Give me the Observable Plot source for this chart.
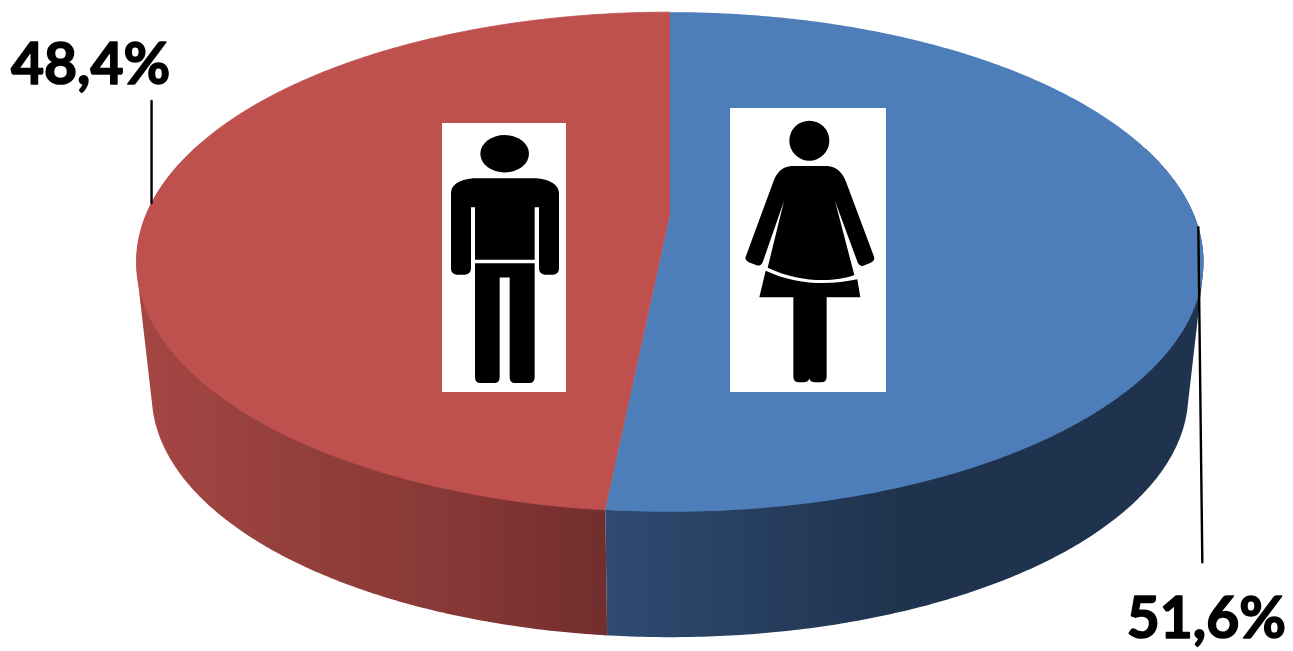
<!DOCTYPE html>
<html>
<head>
<meta charset="utf-8">
<style>html,body{margin:0;padding:0;background:#fff;overflow:hidden}svg{display:block}</style>
<script src="https://cdn.jsdelivr.net/npm/d3@7"></script>
<script src="https://cdn.jsdelivr.net/npm/@observablehq/plot@0.6"></script>
</head>
<body>
<div id="chart"></div>
<script>
// Data
const categories = ["Mujeres", "Hombres"];
const shares = [51.6, 48.4];
const labels = ["51,6%", "48,4%"];

// Styles
const topColors = ["#4E7EBA", "#BE504E"];
const sideStops = [
  [[606, "#2F4B71"], [900, "#1F334E"], [1200, "#1F334E"]],
  [[140, "#A54643"], [300, "#933F3C"], [450, "#873836"], [607, "#722E2E"]]
];
const leaderEnds = [[4, 335], [0, -102]];
const labelOffsets = [[8, 76], [-61, -17]];

// Perspective of the 3-D disc
const k = 0.188;
const discTop = {cx: 669.5, cy: 214.5, rx: 524, ry: 241};
const discBottom = {cx: 669.5, cy: 348.5, rx: 509, ry: 234};
function project(disc, theta) {
  const u = Math.sin(theta), v = -Math.cos(theta), w = 1 - k * v;
  return [disc.cx + disc.rx * u / w, disc.cy + disc.ry * v / w];
}

const slices = d3.pie().sort(null)(shares);
const step = Math.PI / 360;
function anglesOf(s) {
  const out = d3.range(s.startAngle, s.endAngle, step);
  out.push(s.endAngle);
  return out;
}

// Top faces
const topPts = slices.flatMap((s, i) => [
  {id: i, x: discTop.cx, y: discTop.cy, color: topColors[i]},
  ...anglesOf(s).map(t => {
    const [x, y] = project(discTop, t);
    return {id: i, x, y, color: topColors[i]};
  })
]);

// Side walls: the hull of the front part of each slice's upper and lower rim
const sidePts = slices.flatMap((s, i) => {
  const rim = anglesOf(s)
    .filter(t => -Math.cos(t) > -0.3)
    .flatMap(t => [project(discTop, t), project(discBottom, t)]);
  return d3.polygonHull(rim).map(([x, y]) => ({id: i, x, y}));
});

// Leader lines and labels, anchored at each slice's middle angle on the rim
const mids = slices.map(s => project(discTop, (s.startAngle + s.endAngle) / 2));
const leaders = mids.flatMap(([x, y], i) => [
  {id: i, x, y},
  {id: i, x: x + leaderEnds[i][0], y: y + leaderEnds[i][1]}
]);
const labelData = mids.map(([x, y], i) => ({
  text: labels[i],
  name: categories[i],
  x: x + labelOffsets[i][0],
  y: y + leaderEnds[i][1] + labelOffsets[i][1]
}));

// Pictograms
function svgUri(w, h, vb, body) {
  return "data:image/svg+xml;utf8," + encodeURIComponent(
    `<svg xmlns="http://www.w3.org/2000/svg" width="${w}" height="${h}" viewBox="${vb}" preserveAspectRatio="none"><rect x="-10" y="-10" width="900" height="1000" fill="#fff"/>${body}</svg>`);
}
const manSvg = svgUri(124, 269, "36 40 372 805",
  `<ellipse cx="224" cy="132" rx="73" ry="56"/>
   <path d="M130 205H320Q385 212 387 250V475Q387 493 370 494H345Q327 493 327 475V292H314V449H135V292H123V475Q123 493 105 494H80Q63 493 63 475V250Q63 212 130 205Z"/>
   <path d="M135 460H314V800Q314 818 298 818H255Q239 818 239 800V502H209V800Q209 818 193 818H151Q135 818 135 800Z"/>`);
const womanSvg = svgUri(156, 284, "30 24 468 852",
  `<circle cx="268" cy="122" r="60"/>
   <path d="M215 198H322Q360 200 378 245L462 470Q466 482 452 488L430 497Q420 501 414 490L345 303L403 525C340 548 240 548 143 503L192 303L128 487Q122 500 110 496L86 487Q72 480 78 468L160 245Q176 200 215 198Z"/>
   <path d="M137 512C230 556 330 556 412 538L421 592H320V830Q320 847 303 847H285Q270 847 268 835Q266 847 250 847H237Q220 847 220 830V592H118Z"/>`);
const icons = [
  {src: womanSvg, x: 807.5, y: 249.5, width: 156, height: 284},
  {src: manSvg, x: 503.5, y: 257, width: 124, height: 269}
];

const gradient = (i) => () => {
  const ns = "http://www.w3.org/2000/svg";
  const g = document.createElementNS(ns, "linearGradient");
  g.setAttribute("id", "side" + i);
  g.setAttribute("gradientUnits", "userSpaceOnUse");
  const xs = sideStops[i].map(d => d[0]);
  const x1 = xs[0], x2 = xs[xs.length - 1];
  g.setAttribute("x1", x1); g.setAttribute("x2", x2);
  g.setAttribute("y1", 0); g.setAttribute("y2", 0);
  for (const [x, c] of sideStops[i]) {
    const st = document.createElementNS(ns, "stop");
    st.setAttribute("offset", (x - x1) / (x2 - x1));
    st.setAttribute("stop-color", c);
    g.append(st);
  }
  const defs = document.createElementNS(ns, "defs");
  defs.append(g);
  return defs;
};

const chart = Plot.plot({
  width: 1293,
  height: 651,
  margin: 0,
  x: {domain: [0, 1293], range: [0, 1293], axis: null},
  y: {domain: [0, 651], range: [0, 651], axis: null},
  color: {type: "identity"},
  style: {background: "#fff", overflow: "visible"},
  marks: [
    gradient(0),
    gradient(1),
    Plot.line(sidePts.filter(d => d.id === 0), {x: "x", y: "y", fill: "url(#side0)", stroke: "none"}),
    Plot.line(sidePts.filter(d => d.id === 1), {x: "x", y: "y", fill: "url(#side1)", stroke: "none"}),
    Plot.line(topPts.filter(d => d.id === 1), {x: "x", y: "y", fill: "color", stroke: "color", strokeWidth: 0.8}),
    Plot.line(topPts.filter(d => d.id === 0), {x: "x", y: "y", fill: "color", stroke: "none"}),
    Plot.image(icons, {x: "x", y: "y", width: "width", height: "height", src: "src", preserveAspectRatio: "none"}),
    Plot.line(leaders, {x: "x", y: "y", z: "id", stroke: "#000", strokeWidth: 2.4}),
    Plot.text(labelData, {x: "x", y: "y", text: "text", fill: "#000", fontFamily: "Lato", fontWeight: 700, fontSize: 57, textAnchor: "middle", lineAnchor: "bottom", stroke: "#000", strokeWidth: 1.6})
  ]
});
document.getElementById("chart").append(chart);
</script>
</body>
</html>
